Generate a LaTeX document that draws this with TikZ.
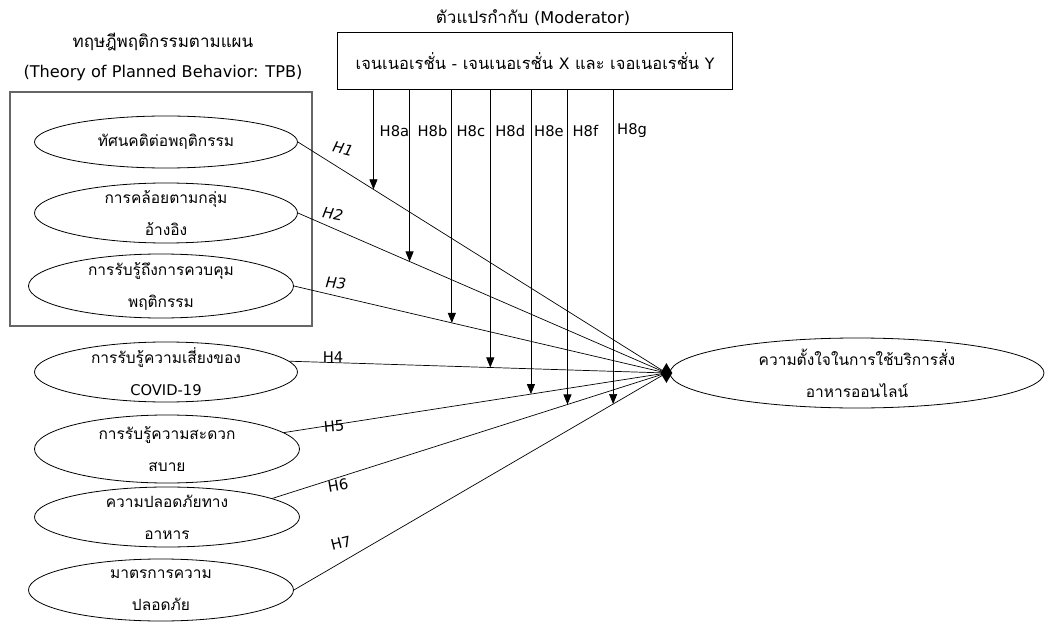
\documentclass[tikz,border=0pt]{standalone}
\usepackage{fontspec}
\setmainfont[Script=Thai]{Loma}
\newfontfamily\lat[Scale=0.95]{DejaVu Sans}
\usetikzlibrary{arrows.meta,shapes.geometric,positioning}
\begin{document}
\begin{tikzpicture}[x=1pt,y=-1pt,
  font=\fontsize{15.5}{32}\selectfont,
  var/.style={ellipse,draw,line width=0.8pt,minimum width=263pt,minimum height=#1,
    align=center,inner xsep=0pt,inner ysep=-9pt},
  var/.default=60pt,
  title/.style={font=\fontsize{17}{20}\selectfont},
  link/.style={line width=0.7pt},
  modarrow/.style={line width=0.7pt,-{Triangle[length=10pt,width=8pt]}},
  hyp/.style={font=\fontsize{15.5}{17}\selectfont\lat},
  hypit/.style={font=\fontsize{15.5}{17}\selectfont\lat\itshape},
  hubdia/.style={diamond,fill,inner sep=0pt,minimum width=12pt,minimum height=20pt}]
  \useasboundingbox (0,0) rectangle (1045,623);
  % กรอบทฤษฎี TPB
  \node[title] (tpbth) at (163,42) {ทฤษฎีพฤติกรรมตามแผน};
  \node[title] (tpben) at (163,73) {\lat(Theory of Planned Behavior: TPB)};
  \draw[black!60,line width=1.5pt] (10,92) rectangle (312,326);
  \node[var=52pt] (att) at (166,142) {ทัศนคติต่อพฤติกรรม};
  \node[var] (sn) at (166,213) {การคล้อยตามกลุ่ม\\อ้างอิง};
  \node[var=64pt,minimum width=265pt] (pbc) at (161,286) {การรับรู้ถึงการควบคุม\\พฤติกรรม};
  % ตัวแปรอื่น
  \node[var] (risk) at (166,372) {การรับรู้ความเสี่ยงของ\\{\lat COVID-19}};
  \node[var=68pt,minimum width=265pt] (conv) at (167,449) {การรับรู้ความสะดวก\\สบาย};
  \node[var,minimum width=265pt] (safe) at (167,517) {ความปลอดภัยทาง\\อาหาร};
  \node[var=62pt,minimum width=265pt] (meas) at (161,590) {มาตรการความ\\ปลอดภัย};
  \node[var=70pt,minimum width=374pt] (intent) at (857,373) {ความตั้งใจในการใช้บริการสั่ง\\อาหารออนไลน์};
  \node[hubdia,left=-3pt of intent.west] (hub) {};
  % ตัวแปรกำกับ
  \node[title] (modt) at (533,18) {ตัวแปรกำกับ {\lat(Moderator)}};
  \node[draw,line width=0.8pt,minimum width=395pt,minimum height=57pt,
    font=\fontsize{16.5}{20}\selectfont] (mod) at (535,61)
    {\raisebox{-3pt}{เจนเนอเรชั่น {\lat-} เจนเนอเรชั่น {\lat X} และ เจอเนอเรชั่น {\lat Y}}};
  % เส้นสมมติฐาน
  \draw[link] (att.east)  -- coordinate[pos=.205] (m1) (hub.center);
  \draw[link] (sn.east)   -- coordinate[pos=.303] (m2) (hub.center);
  \draw[link] (pbc.east)  -- coordinate[pos=.424] (m3) (hub.center);
  \draw[link] (risk.5)    -- coordinate[pos=.533] (m4) (hub.center);
  \draw[link] (conv.8)    -- coordinate[pos=.646] (m5) (hub.center);
  \draw[link] (safe.10)   -- coordinate[pos=.749] (m6) (hub.center);
  \draw[link] (meas.east) -- coordinate[pos=.857] (m7) (hub.center);
  \node[hypit,rotate=-14] (h1) at (343,149) {H1};
  \node[hypit,rotate=-10] (h2) at (333,214) {H2};
  \node[hypit,rotate=-5]  (h3) at (336,283) {H3};
  \node[hyp] (h4) at (333,357) {H4};
  \node[hyp,rotate=5] (h5) at (334,426) {H5};
  \node[hyp,rotate=10] (h6) at (338,485) {H6};
  \node[hyp,rotate=14] (h7) at (341,543) {H7};
  \foreach \i/\l/\dx in {1/a/21,2/b/23,3/c/19,4/d/20,5/e/18,6/f/18,7/g/19} {
    \draw[modarrow] (mod.south -| m\i) -- (m\i);
    \path (mod.south -| m\i) ++(\dx,41) node[hyp] (h8\l) {H8\l};
  }
\end{tikzpicture}
\end{document}
